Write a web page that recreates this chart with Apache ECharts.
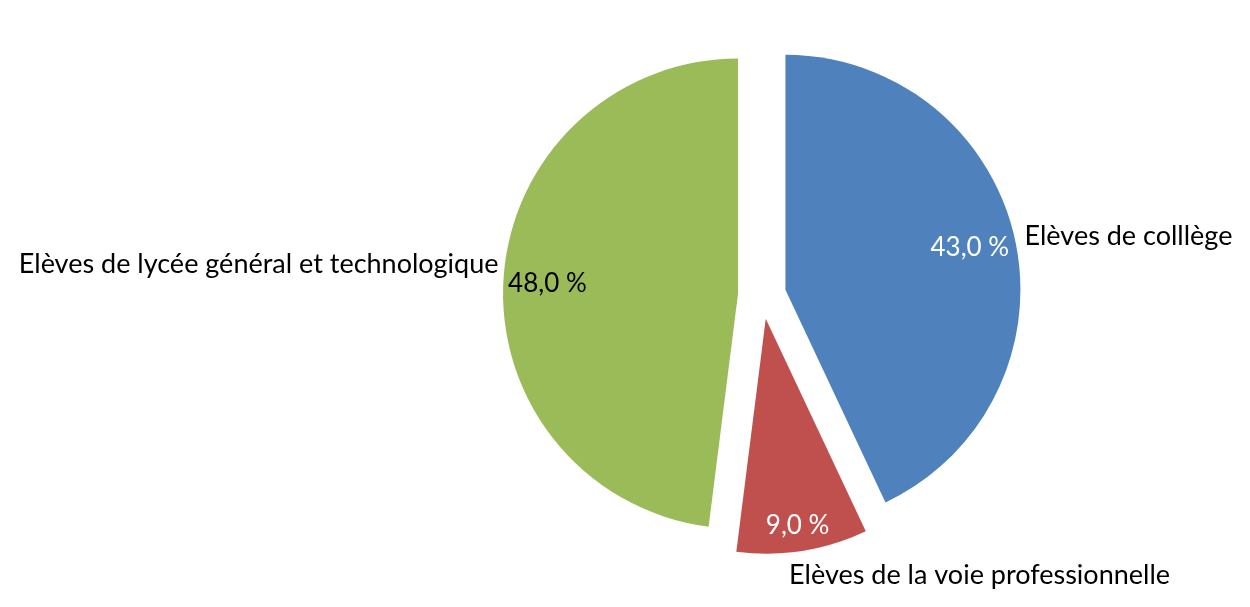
<!DOCTYPE html>
<html>
<head>
<meta charset="utf-8">
<script src="https://cdn.jsdelivr.net/npm/echarts@6/dist/echarts.min.js"></script>
<style>
html,body{margin:0;padding:0;background:#fff;}
#chart{width:1250px;height:607px;}
</style>
</head>
<body>
<div id="chart"></div>
<script>
// ---- data ----
const categories = ['Elèves de colllège', 'Elèves de la voie professionnelle', 'Elèves de lycée général et technologique'];
const shares = [43.0, 9.0, 48.0];

// ---- styles ----
const colors = ['#4F81BD', '#C0504D', '#9BBB59'];
const pctColors = ['#ffffff', '#ffffff', '#000000'];
const pctShift = [[-2, 0], [2, 18], [0, 2]];
const nameShift = [[-5, 0], [-20, 15], [10, -14]];
const nameAlign = ['left', 'left', 'right'];
const FONT = 'Lato';
const R = 235;
const CENTER = [762, 295];
const OFFSET = 24;

const chart = echarts.init(document.getElementById('chart'), null, {renderer: 'canvas'});

const baseData = categories.map((c, i) => ({
  name: c, value: shares[i], selected: true,
  itemStyle: {color: colors[i]}
}));

const ringData = categories.map((c, i) => ({
  name: c, value: shares[i], selected: true,
  itemStyle: {color: 'rgba(0,0,0,0)'},
  label: {color: pctColors[i]}
}));

chart.setOption({
  animation: false,
  backgroundColor: '#ffffff',
  series: [
    {
      type: 'pie',
      center: CENTER,
      radius: [0, R],
      startAngle: 90,
      clockwise: true,
      selectedMode: 'multiple',
      selectedOffset: OFFSET,
      avoidLabelOverlap: false,
      emphasis: {scale: false, disabled: true},
      itemStyle: {borderWidth: 0},
      data: baseData,
      label: {
        show: true,
        position: 'outside',
        formatter: '{b}',
        fontFamily: FONT,
        fontSize: 27,
        color: '#000'
      },
      labelLine: {show: false, length: 10, length2: 0},
      labelLayout: function (p) {
        const i = p.dataIndex;
        return {dx: nameShift[i][0], dy: nameShift[i][1], align: nameAlign[i]};
      }
    },
    {
      type: 'pie',
      center: CENTER,
      radius: [R * 0.6, R],
      startAngle: 90,
      clockwise: true,
      selectedMode: 'multiple',
      selectedOffset: OFFSET,
      avoidLabelOverlap: false,
      silent: true,
      emphasis: {scale: false, disabled: true},
      data: ringData,
      label: {
        show: true,
        position: 'inside',
        formatter: function (p) { return p.value.toFixed(1).replace('.', ',') + ' %'; },
        fontFamily: FONT,
        fontSize: 26
      },
      labelLine: {show: false},
      labelLayout: function (p) {
        const i = p.dataIndex;
        return {dx: pctShift[i][0], dy: pctShift[i][1]};
      }
    }
  ]
});
</script>
</body>
</html>
